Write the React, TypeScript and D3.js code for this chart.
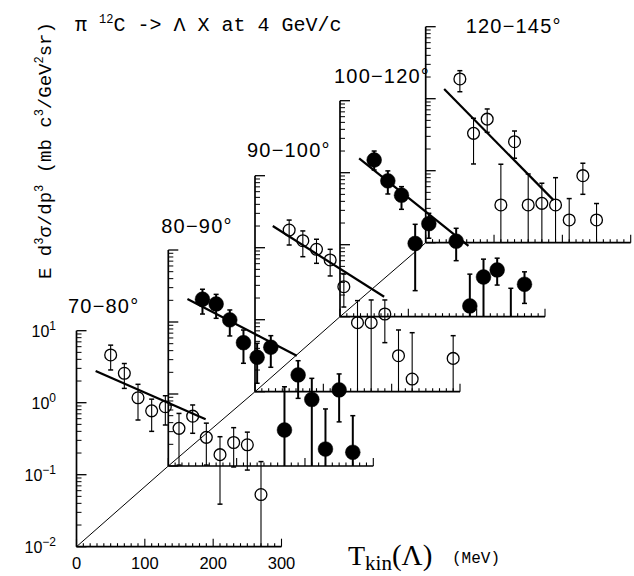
import React from 'react';
import * as d3 from 'd3';

// ---- data (panel-local coordinates: T in MeV, cross section in mb c^3/GeV^2 sr) ----
const panelLabels = ['70\u221280°', '80\u221290°', '90\u2212100°', '100\u2212120°', '120\u2212145°'];

const T_70_80 = [50, 70, 90, 110, 130, 150, 170, 190, 210, 230, 250, 270];
const v_70_80 = [4.6, 2.56, 1.17, 0.77, 0.88, 0.44, 0.65, 0.33, 0.19, 0.28, 0.26, 0.053];
const hi_70_80 = [6.3, 3.5, 1.8, 1.12, 1.25, 0.71, 0.93, 0.52, 0.337, 0.45, 0.39, 0.152];
const lo_70_80 = [2.85, 1.58, 0.575, 0.4, 0.49, 0.136, 0.376, 0.136, 0.039, 0.128, 0.116, 0.01];

const T_80_90 = [50, 70, 90, 110, 130, 150, 170, 190, 210, 230, 250, 270];
const v_80_90 = [2.07, 1.78, 1.07, 0.516, 0.324, 0.446, 0.0316, 0.184, 0.084, 0.0172, 0.114, 0.0155];
const hi_80_90 = [2.85, 2.42, 1.47, 0.774, 0.506, 0.646, 0.126, 0.29, 0.165, 0.062, 0.19, 0.05];
const lo_80_90 = [1.29, 1.125, 0.64, 0.267, 0.141, 0.235, 0.01, 0.087, 0.01, 0.01, 0.041, 0.01];

const T_90_100 = [50, 70, 90, 110, 130, 150, 170, 190, 210, 230, 290];
const v_90_100 = [1.76, 1.25, 0.95, 0.675, 0.287, 0.091, 0.091, 0.12, 0.0316, 0.015, 0.029];
const hi_90_100 = [2.42, 1.71, 1.31, 0.95, 0.43, 0.184, 0.188, 0.188, 0.072, 0.066, 0.06];
const lo_90_100 = [1.09, 0.75, 0.607, 0.405, 0.15, 0.01, 0.01, 0.048, 0.01, 0.01, 0.01];

const T_100_120 = [50, 70, 90, 110, 130, 170, 190, 210, 230, 250, 270];
const v_100_120 = [1.5, 0.77, 0.487, 0.104, 0.196, 0.112, 0.0141, 0.0356, 0.0446, null, 0.0282];
const hi_100_120 = [2.0, 1.06, 0.64, 0.192, 0.273, 0.169, 0.039, 0.063, 0.065, 0.0248, 0.042];
const lo_100_120 = [1.09, 0.506, 0.31, 0.023, 0.123, 0.06, 0.01, 0.01, 0.0275, 0.01, 0.0153];

const T_120_145 = [50, 70, 90, 110, 130, 150, 170, 190, 210, 230, 250];
const v_120_145 = [1.88, 0.33, 0.52, 0.0334, 0.253, 0.0334, 0.0352, 0.0334, 0.0207, 0.0853, 0.0207];
const hi_120_145 = [2.45, 0.535, 0.72, 0.123, 0.356, 0.09, 0.067, 0.08, 0.041, 0.127, 0.035];
const lo_120_145 = [1.25, 0.124, 0.341, 0.01, 0.149, 0.01, 0.01, 0.01, 0.01, 0.047, 0.01];

// exponential fits: [T0, value0, T1, value1]
const fits = [
  [28, 2.75, 189, 0.587],
  [28, 2.09, 188, 0.34],
  [26, 2.0, 189, 0.208],
  [28, 1.585, 188, 0.096],
  [27, 1.36, 187, 0.039],
];
const filledPanel = [false, true, false, true, false];

const xTickValues = d3.range(0, 301, 10);
const xTickLabels = ['0', '100', '200', '300'];
const yDecades = [-2, -1, 0, 1];

// ---- layout ----
const W = 634, H = 576;
const ORIGINS = [[76.5, 546.7], [168.3, 466], [255, 391.7], [340, 316.7], [425.7, 242.7]];
const LABEL_OFF = [[-8.5, -18], [-7, -17], [-8, -19], [-6, -18], [40, 6]];

const SANS = 'Liberation Sans, Arial, Helvetica, sans-serif';
const MONO = 'Liberation Mono, Courier New, monospace';
const SERIF = 'Liberation Serif, Times New Roman, serif';

const xS = d3.scaleLinear().domain([0, 300]).range([0, 205]);
const yS = d3.scaleLog().domain([0.01, 10]).range([0, -216]);

const dataSets = [
  { T: T_70_80, v: v_70_80, hi: hi_70_80, lo: lo_70_80 },
  { T: T_80_90, v: v_80_90, hi: hi_80_90, lo: lo_80_90 },
  { T: T_90_100, v: v_90_100, hi: hi_90_100, lo: lo_90_100 },
  { T: T_100_120, v: v_100_120, hi: hi_100_120, lo: lo_100_120 },
  { T: T_120_145, v: v_120_145, hi: hi_120_145, lo: lo_120_145 },
];

function Axes() {
  const yMinor: number[] = [];
  [-2, -1, 0].forEach((d) => {
    for (let m = 2; m <= 9; m++) yMinor.push(m * Math.pow(10, d));
  });
  return (
    <g>
      <line x1={0} y1={0} x2={xS(300)} y2={0} stroke="#000" strokeWidth={1.7} />
      <line x1={0} y1={0} x2={0} y2={yS(10)} stroke="#000" strokeWidth={1.7} />
      {xTickValues.map((t) => (
        <line key={'xt' + t} x1={xS(t)} x2={xS(t)} y1={0} y2={t % 100 === 0 ? -8 : -3.5} stroke="#000" strokeWidth={1.1} />
      ))}
      {yDecades.map((d) => (
        <line key={'yM' + d} x1={0} x2={10} y1={yS(Math.pow(10, d))} y2={yS(Math.pow(10, d))} stroke="#000" strokeWidth={1.3} />
      ))}
      {yMinor.map((v, i) => (
        <line key={'ym' + i} x1={0} x2={5} y1={yS(v)} y2={yS(v)} stroke="#000" strokeWidth={1} />
      ))}
    </g>
  );
}

function Panel({ idx }: { idx: number }) {
  const [ox, oy] = ORIGINS[idx];
  const ds = dataSets[idx];
  const filled = filledPanel[idx];
  const f = fits[idx];
  const top = yS(10);
  return (
    <g transform={`translate(${ox},${oy})`}>
      <Axes />
      <text x={LABEL_OFF[idx][0]} y={top + LABEL_OFF[idx][1]} fontFamily={SANS} fontSize={20} letterSpacing={1.2}>
        {panelLabels[idx]}
      </text>
      <line x1={xS(f[0])} y1={yS(f[1])} x2={xS(f[2])} y2={yS(f[3])} stroke="#000" strokeWidth={2.2} />
      {ds.T.map((t, i) => {
        const x = xS(t);
        const yh = yS(ds.hi[i]);
        const yl = yS(ds.lo[i]);
        const sw = filled ? 2 : 1.1;
        return (
          <g key={'e' + i}>
            <line x1={x} x2={x} y1={yh} y2={yl} stroke="#000" strokeWidth={sw} />
            <line x1={x - 2.5} x2={x + 2.5} y1={yh} y2={yh} stroke="#000" strokeWidth={1.5} />
            {ds.lo[i] > 0.0101 && <line x1={x - 2.5} x2={x + 2.5} y1={yl} y2={yl} stroke="#000" strokeWidth={1.5} />}
          </g>
        );
      })}
      {ds.T.map((t, i) => {
        const v = ds.v[i];
        if (v == null) return null;
        return filled ? (
          <circle key={'m' + i} cx={xS(t)} cy={yS(v)} r={7.4} fill="#000" stroke="#000" strokeWidth={0.5} />
        ) : (
          <circle key={'m' + i} cx={xS(t)} cy={yS(v)} r={5.9} fill="none" stroke="#000" strokeWidth={1.3} />
        );
      })}
    </g>
  );
}

export default function App() {
  const [ox0, oy0] = ORIGINS[0];
  const diag = d3.line()(ORIGINS.map((o) => [o[0], o[1]] as [number, number])) || '';
  return (
    <svg width={W} height={H} style={{ position: 'absolute', left: 0, top: 0, background: '#fff' }}>
      <rect x={0} y={0} width={W} height={H} fill="#fff" />
      <path d={diag} fill="none" stroke="#000" strokeWidth={1} />
      {ORIGINS.map((_, i) => (
        <Panel key={i} idx={i} />
      ))}
      {/* main y tick labels */}
      {yDecades.map((d) => (
        <text key={'yl' + d} x={56} y={oy0 + yS(Math.pow(10, d)) + 6} textAnchor="end" fontFamily={SANS} fontSize={16}>
          <tspan>10</tspan>
          <tspan dy={-7} fontSize={12}>{d < 0 ? '\u2212' + Math.abs(d) : String(d)}</tspan>
        </text>
      ))}
      {/* main x tick labels */}
      {xTickLabels.map((l) => (
        <text key={'xl' + l} x={ox0 + xS(+l)} y={569} textAnchor="middle" fontFamily={SANS} fontSize={16.5}>
          {l}
        </text>
      ))}
      {/* title */}
      <text x={75} y={31} fontFamily={MONO} fontSize={20}>
        <tspan>{'\u03c0 '}</tspan>
        <tspan dy={-8} fontSize={12}>12</tspan>
        <tspan dy={8}>{'C -> \u039b X at 4 GeV/c'}</tspan>
      </text>
      {/* y axis label */}
      <text transform="translate(51,279) rotate(-90)" fontFamily={MONO} fontSize={19}>
        <tspan>E d</tspan>
        <tspan dy={-8} fontSize={12}>3</tspan>
        <tspan dy={8}>{'\u03c3/dp'}</tspan>
        <tspan dy={-8} fontSize={12}>3</tspan>
        <tspan dy={8}>{' (mb c'}</tspan>
        <tspan dy={-8} fontSize={12}>3</tspan>
        <tspan dy={8}>/GeV</tspan>
        <tspan dy={-8} fontSize={12}>2</tspan>
        <tspan dy={8}>sr)</tspan>
      </text>
      {/* x axis label */}
      <text x={348} y={565} fontFamily={SERIF} fontSize={28}>
        <tspan>T</tspan>
        <tspan dy={5} fontSize={21}>kin</tspan>
        <tspan dy={-5} fontSize={29}>{'(\u039b)'}</tspan>
      </text>
      <text x={452} y={563} fontFamily={MONO} fontSize={16}>(MeV)</text>
    </svg>
  );
}
